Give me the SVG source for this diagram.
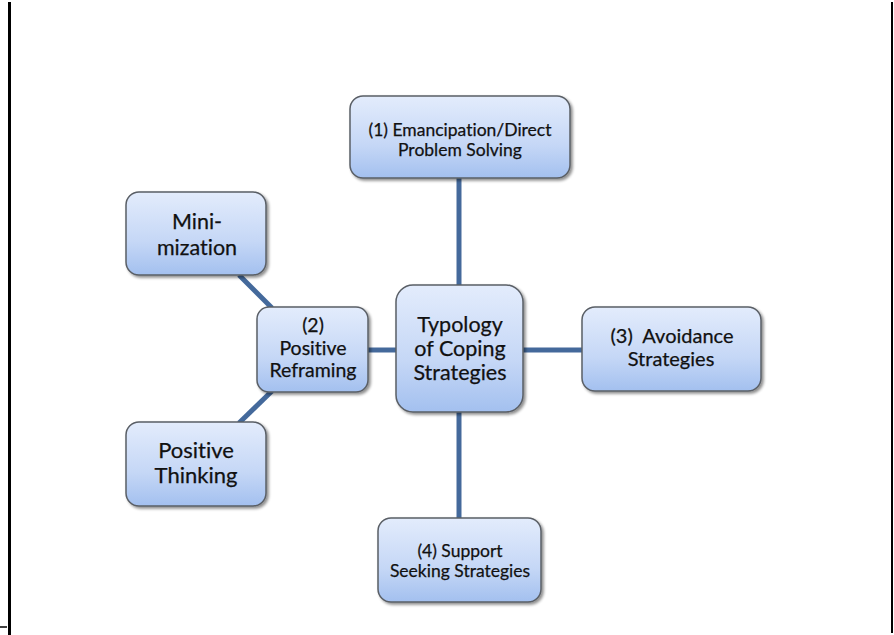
<svg xmlns="http://www.w3.org/2000/svg" width="894" height="635" viewBox="0 0 894 635">
<defs>
<linearGradient id="g" x1="0" y1="0" x2="0" y2="1">
<stop offset="0" stop-color="#e3ecfc"/>
<stop offset="0.6" stop-color="#c5d7f6"/>
<stop offset="1" stop-color="#a3c0ef"/>
</linearGradient>
<filter id="sh" x="-10%" y="-10%" width="125%" height="130%">
<feGaussianBlur in="SourceAlpha" stdDeviation="1.5"/>
<feOffset dx="1.5" dy="2" result="b"/>
<feComponentTransfer><feFuncA type="linear" slope="0.45"/></feComponentTransfer>
<feMerge><feMergeNode/><feMergeNode in="SourceGraphic"/></feMerge>
</filter>
</defs>
<style>
.n{fill:url(#g);stroke:#5a5f66;stroke-width:1.5;filter:url(#sh)}
.t{font-family:Lato,"Open Sans","Liberation Sans",sans-serif;fill:#111;stroke:#111;stroke-width:0.25;text-anchor:middle;font-variant-ligatures:none;font-feature-settings:"liga" 0}
.c{stroke:#44699b;stroke-width:5;fill:none}
</style>
<rect width="894" height="635" fill="#ffffff"/>
<line x1="9.5" y1="2" x2="9.5" y2="635" stroke="#000" stroke-width="3"/>
<line x1="0" y1="627" x2="7" y2="627" stroke="#000" stroke-width="1.5"/>
<line x1="892" y1="2" x2="892" y2="633" stroke="#000" stroke-width="2"/>
<g id="connectors">
<line class="c" x1="459" y1="178" x2="459" y2="286"/>
<line class="c" x1="459" y1="411" x2="459" y2="519"/>
<line class="c" x1="367" y1="350" x2="397" y2="350"/>
<line class="c" x1="522" y1="350" x2="583" y2="350"/>
<line class="c" x1="239" y1="275" x2="272" y2="308"/>
<line class="c" x1="272" y1="391" x2="239" y2="423"/>
</g>
<g id="n1"><rect class="n" x="350" y="96" width="220" height="82" rx="13"/>
<text class="t" font-size="17.5"><tspan x="460" y="136">(1) Emancipation/Direct</tspan><tspan x="460" y="156">Problem Solving</tspan></text></g>
<g id="n2"><rect class="n" x="126" y="192" width="140" height="83" rx="13"/>
<text class="t" font-size="21.5"><tspan x="197" y="229">Mini-</tspan><tspan x="197" y="255">mization</tspan></text></g>
<g id="n3"><rect class="n" x="257" y="307" width="111" height="85" rx="12"/>
<text class="t" font-size="19.5"><tspan x="313" y="332">(2)</tspan><tspan x="313" y="355">Positive</tspan><tspan x="313" y="377">Reframing</tspan></text></g>
<g id="n4"><rect class="n" x="396" y="285" width="127" height="127" rx="17"/>
<text class="t" font-size="21.5"><tspan x="460" y="332">Typology</tspan><tspan x="460" y="356">of Coping</tspan><tspan x="460" y="380">Strategies</tspan></text></g>
<g id="n5"><rect class="n" x="582" y="307" width="179" height="84" rx="13"/>
<text class="t" font-size="20"><tspan x="672" y="343" xml:space="preserve">(3)  Avoidance</tspan><tspan x="671" y="366">Strategies</tspan></text></g>
<g id="n6"><rect class="n" x="126" y="422" width="140" height="84" rx="13"/>
<text class="t" font-size="22"><tspan x="196" y="458">Positive</tspan><tspan x="196" y="483">Thinking</tspan></text></g>
<g id="n7"><rect class="n" x="378" y="518" width="163" height="84" rx="13"/>
<text class="t" font-size="17.5"><tspan x="460" y="557">(4) Support</tspan><tspan x="460" y="577">Seeking Strategies</tspan></text></g>
</svg>
